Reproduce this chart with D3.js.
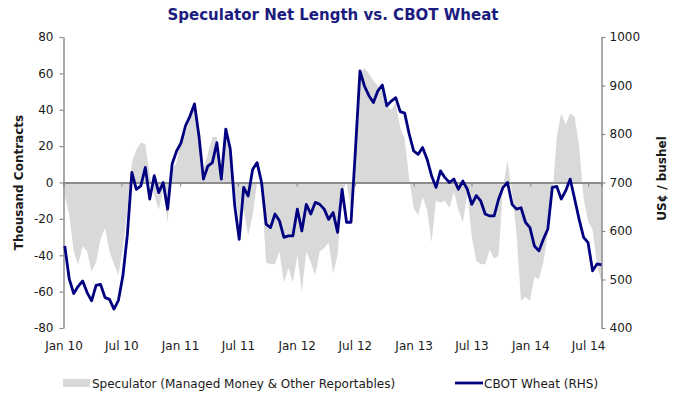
<!DOCTYPE html>
<html>
<head>
<meta charset="utf-8">
<script src="https://cdn.jsdelivr.net/npm/d3@7"></script>
<style>
  html, body { margin: 0; padding: 0; background: #fff; }
  svg { display: block; font-family: "DejaVu Sans", Verdana, sans-serif; }
</style>
</head>
<body>
<svg id="chart" width="698" height="401"></svg>
<script>
// ---- data (bi-weekly, starting 5 Jan 2010) ----
const startDate = new Date(2010, 0, 5);
const speculator = [
  -7, -18, -38, -45, -35, -38, -49, -44, -31, -25, -38, -45, -51, -36, -15, 11, 18, 22, 21, 4, -7, -15, -4, -22, 7, 11, 25, 27, 35, 45,
  27, 7, 16, 25, 25, 4, 27, 15, -5, -22, -15, -29, -18, 0, -2, -44, -45, -45, -38, -55, -47, -55, -40, -60, -38, -44, -51, -38, -36, -33,
  -50, -40, -5, 0, -15, 20, 60, 63, 60, 56, 53, 50, 42, 40, 44, 30, 24, 2, -14, -18, -8, -15, -33, -10, -11, -10, -14, -5, -15, -22, -6,
  -30, -43, -45, -45, -37, -42, -40, -2, 12, -6, -28, -65, -63, -65, -52, -53, -44, -28, -8, 25, 38, 32, 38, 36, 20, -9, -21, -26, -45, -55
];
const wheat = [
  569, 501, 471, 486, 497, 473, 456, 488, 490, 463, 459, 439, 457, 508, 593, 721, 686, 693, 731, 666, 714, 679, 700, 645, 738, 765, 782, 817, 837, 862,
  796, 707, 734, 741, 782, 707, 810, 769, 652, 583, 690, 672, 727, 741, 700, 614, 607, 635, 621, 587, 590, 590, 645, 600, 655, 635, 659, 655, 645, 624,
  638, 597, 686, 618, 618, 769, 930, 899, 879, 865, 889, 901, 858, 868, 875, 846, 843, 800, 765, 758, 772, 748, 714, 690, 724, 710, 700, 707, 686, 703, 686,
  655, 673, 662, 635, 631, 631, 666, 690, 700, 655, 645, 648, 618, 607, 569, 559, 583, 604, 690, 692, 666, 683, 707, 666, 624, 587, 576, 518, 532, 530
];
const xTickDates = ["2010-01-01","2010-07-01","2011-01-01","2011-07-01","2012-01-01","2012-07-01","2013-01-01","2013-07-01","2014-01-01","2014-07-01"];
const xTickLabels = ["Jan 10","Jul 10","Jan 11","Jul 11","Jan 12","Jul 12","Jan 13","Jul 13","Jan 14","Jul 14"];
const leftTicks = [-80, -60, -40, -20, 0, 20, 40, 60, 80];
const rightTicks = [400, 500, 600, 700, 800, 900, 1000];

const dates = speculator.map((_, i) => d3.timeDay.offset(startDate, 14 * i));
const data = dates.map((d, i) => ({ date: d, spec: speculator[i], price: wheat[i] }));
const tickDates = xTickDates.map(s => d3.isoParse(s + "T00:00:00"));

// ---- layout ----
const L = 63.5, R = 601.5, T = 37, B = 328;
const svg = d3.select("#chart");

const x = d3.scaleTime().domain([new Date(2010, 0, 1), new Date(2014, 7, 12)]).range([L, R]);
const yL = d3.scaleLinear().domain([-80, 80]).range([B, T]);
const yR = d3.scaleLinear().domain([400, 1000]).range([B, T]);

const axisColor = "#8c8c8c";
const textColor = "#1a1a1a";

// area
svg.append("path")
  .datum(data)
  .attr("fill", "#d9d9d9")
  .attr("d", d3.area().x(d => x(d.date)).y0(yL(0)).y1(d => yL(d.spec)));

// zero axis with tick marks
const zeroAxis = svg.append("g")
  .attr("transform", `translate(0,${yL(0)})`)
  .call(d3.axisBottom(x).tickValues(tickDates).tickSize(4).tickFormat(""));
zeroAxis.select(".domain").attr("stroke", axisColor).attr("stroke-width", 2);
zeroAxis.selectAll(".tick line").attr("stroke", axisColor).attr("stroke-width", 1.2);

// x labels at bottom
const xLab = svg.append("g")
  .attr("transform", `translate(0,${B})`)
  .call(d3.axisBottom(x).tickValues(tickDates).tickSize(0).tickPadding(13)
    .tickFormat((d, i) => xTickLabels[i]));
xLab.select(".domain").remove();
xLab.selectAll("text").attr("font-size", 12).attr("fill", textColor).attr("font-family", "DejaVu Sans");

// left axis
const la = svg.append("g")
  .attr("transform", `translate(${L},0)`)
  .call(d3.axisLeft(yL).tickValues(leftTicks).tickSize(4).tickPadding(6).tickSizeOuter(0)
    .tickFormat(d => String(d)));
la.select(".domain").attr("stroke", axisColor).attr("stroke-width", 1.5);
la.selectAll(".tick line").attr("stroke", axisColor).attr("stroke-width", 1.2);
la.selectAll("text").attr("font-size", 12).attr("fill", textColor).attr("font-family", "DejaVu Sans");

// right axis
const ra = svg.append("g")
  .attr("transform", `translate(${R},0)`)
  .call(d3.axisRight(yR).tickValues(rightTicks).tickSize(4).tickPadding(4).tickSizeOuter(0)
    .tickFormat(d => String(d)));
ra.select(".domain").attr("stroke", axisColor).attr("stroke-width", 1.5);
ra.selectAll(".tick line").attr("stroke", axisColor).attr("stroke-width", 1.2);
ra.selectAll("text").attr("font-size", 12).attr("fill", textColor).attr("font-family", "DejaVu Sans");

// price line
svg.append("path")
  .datum(data)
  .attr("fill", "none")
  .attr("stroke", "#000080")
  .attr("stroke-width", 2.8)
  .attr("stroke-linejoin", "round")
  .attr("d", d3.line().x(d => x(d.date)).y(d => yR(d.price)));

// title
svg.append("text")
  .attr("x", 333).attr("y", 20)
  .attr("text-anchor", "middle")
  .attr("font-size", 15).attr("font-weight", "bold")
  .attr("fill", "#1c1c80")
  .text("Speculator Net Length vs. CBOT Wheat");

// axis titles
svg.append("text")
  .attr("transform", `translate(23,${yL(0)}) rotate(-90)`)
  .attr("text-anchor", "middle")
  .attr("font-size", 12).attr("font-weight", "bold").attr("fill", textColor)
  .text("Thousand Contracts");
svg.append("text")
  .attr("transform", `translate(666,${yL(0) - 4}) rotate(-90)`)
  .attr("text-anchor", "middle")
  .attr("font-size", 12).attr("font-weight", "bold").attr("fill", textColor)
  .text("US¢ / bushel");

// legend
const lg = svg.append("g");
lg.append("rect").attr("x", 63).attr("y", 379).attr("width", 27).attr("height", 8).attr("fill", "#d9d9d9");
lg.append("text").attr("x", 92).attr("y", 388).attr("font-size", 12).attr("fill", textColor)
  .text("Speculator (Managed Money & Other Reportables)");
lg.append("line").attr("x1", 455).attr("x2", 483).attr("y1", 383).attr("y2", 383)
  .attr("stroke", "#000080").attr("stroke-width", 2.8);
lg.append("text").attr("x", 484).attr("y", 388).attr("font-size", 12).attr("fill", textColor)
  .text("CBOT Wheat (RHS)");
</script>
</body>
</html>
